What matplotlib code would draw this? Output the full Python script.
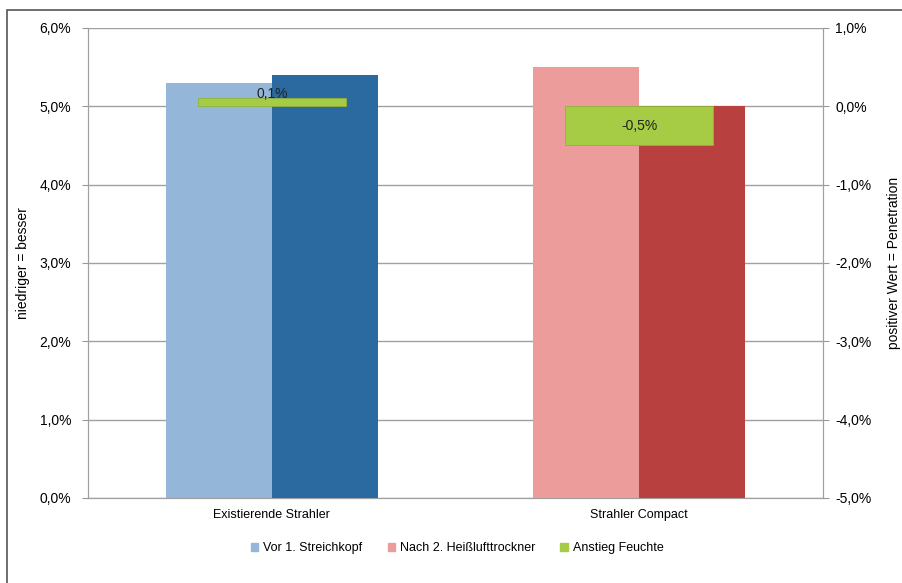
import numpy as np
import matplotlib
matplotlib.use("Agg")
import matplotlib.pyplot as plt
from matplotlib.ticker import FuncFormatter
from matplotlib.patches import Patch, Rectangle

plt.rcParams['font.family'] = ['Liberation Sans', 'DejaVu Sans']

# Daten
kategorien = ['Existierende Strahler', 'Strahler Compact']
vor_streichkopf = [5.3, 5.5]
nach_trockner = [5.4, 5.0]
anstieg_feuchte = [0.1, -0.5]
feuchte_labels = ['0,1%', '-0,5%']

farben_vor = ['#94b6d8', '#ec9c9b']
farben_nach = ['#2a6aa0', '#b8403f']
gruen = '#a6cb45'

def proz(v, pos):
    return f'{v:.1f}%'.replace('.', ',')

fig = plt.figure(figsize=(9.02, 5.83), dpi=100)
ax = fig.add_axes([0.0976, 0.1458, 0.8148, 0.8062])
ax2 = ax.twinx()

x = np.arange(len(kategorien))
w = 0.288
ax.bar(x - w/2, vor_streichkopf, width=w, color=farben_vor, zorder=3)
ax.bar(x + w/2, nach_trockner, width=w, color=farben_nach, zorder=3)

ax2.bar(x, anstieg_feuchte, width=0.403, color=gruen, edgecolor='#8fb33a', linewidth=0.6, zorder=3)
for xi, v, lab in zip(x, anstieg_feuchte, feuchte_labels):
    if v >= 0:
        ax2.text(xi, v - 0.03, lab, ha='center', va='bottom', fontsize=10, color='#222222')
    else:
        ax2.text(xi, v / 2, lab, ha='center', va='center', fontsize=10, color='#222222')

ax.set_xlim(-0.5, 1.5)
ax.set_ylim(0, 6)
ax2.set_ylim(-5, 1)
ax.set_yticks(np.arange(0, 7, 1))
ax2.set_yticks(np.arange(-5, 2, 1))
ax.yaxis.set_major_formatter(FuncFormatter(proz))
ax2.yaxis.set_major_formatter(FuncFormatter(proz))
ax.grid(axis='y', color='#a0a0a0', linewidth=1, zorder=0)
ax.set_axisbelow(True)
ax.set_xticks(x)
ax.set_xticklabels(kategorien, fontsize=9)
ax.tick_params(axis='x', length=0, pad=8)
ax.tick_params(axis='y', labelsize=10, length=4, color='#999999', pad=8)
ax2.tick_params(axis='y', labelsize=10, length=4, color='#999999', pad=5)

for a in (ax, ax2):
    a.spines['top'].set_visible(False)
    for s in ('left', 'right', 'bottom'):
        a.spines[s].set_color('#a0a0a0')

ax.set_ylabel('niedriger = besser', fontsize=10)
ax.yaxis.set_label_coords(-0.079, 0.5)
ax2.set_ylabel('positiver Wert = Penetration', fontsize=10)
ax2.yaxis.set_label_coords(1.087, 0.5)

handles = [Patch(color=farben_vor[0]), Patch(color=farben_vor[1]), Patch(color=gruen)]
fig.legend(handles, ['Vor 1. Streichkopf', 'Nach 2. Heißlufttrockner', 'Anstieg Feuchte'],
           loc='center', bbox_to_anchor=(0.507, 0.06), ncol=3, frameon=False,
           fontsize=9, handlelength=0.6, handleheight=0.6, handletextpad=0.4, columnspacing=2.0)

# Rahmen
fig.patches.append(Rectangle((7/902, -0.01), 1.0, 1 - 10/583 + 0.01, transform=fig.transFigure,
                             fill=False, edgecolor='#555555', linewidth=1.2))

fig.savefig('out.png', dpi=100)
